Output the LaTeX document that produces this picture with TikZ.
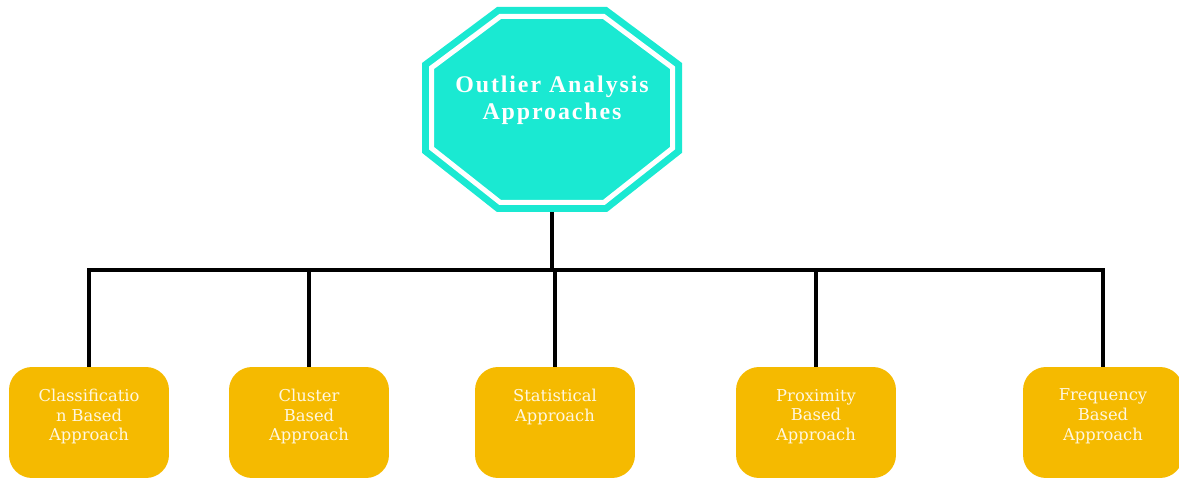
\documentclass[tikz,border=0pt]{standalone}
\usepackage{fontspec}
\setmainfont{DejaVu Serif}
\newfontfamily\titlefont[LetterSpace=8]{Liberation Serif}
\usetikzlibrary{calc}
\definecolor{hubteal}{RGB}{26,233,210}
\definecolor{leafgold}{RGB}{245,186,0}
\definecolor{leafink}{RGB}{255,247,224}
\newcommand{\leaflines}[1]{\parbox[c][2.22cm][t]{3.1cm}{\centering
  \vspace*{0.44cm}#1}}

\begin{document}
\begin{tikzpicture}[
    x=0.02cm, y=-0.02cm,
    hubshape/.style={fill=hubteal, draw=hubteal, line width=0.14cm,
                     double=white, double distance=0.1cm,
                     line join=miter},
    hubtitle/.style={align=center, text=white, inner sep=0pt,
                     font=\titlefont\bfseries\fontsize{13.6}{15.5}\selectfont},
    leaf/.style={rectangle, rounded corners=0.46cm, fill=leafgold,
                 minimum width=3.2cm, minimum height=2.22cm,
                 inner sep=0pt, text=leafink,
                 font=\fontsize{9.3}{11.2}\selectfont},
    link/.style={draw=black, line width=0.08cm},
]
\useasboundingbox (0,0) rectangle (1179,479);

% ==========================================================
% Octagon at the top
% ==========================================================
\draw[hubshape] (500.2,16.5) -- (603.8,16.5) -- (672.5,67.8)
    -- (672.5,148.2) -- (603.8,202.5) -- (500.2,202.5)
    -- (431.5,148.2) -- (431.5,67.8) -- cycle;
\node[hubtitle] (hub) at (552,100) {Outlier Analysis\\Approaches};
\coordinate (hubfoot) at (552,212);
\coordinate (split) at (552,270);

% ==========================================================
% The five approaches
% ==========================================================
\node[leaf] (classif) at (89,422.5)
    {\leaflines{Classificatio\\n Based\\Approach}};
\node[leaf] (cluster) at (309,422.5)
    {\leaflines{Cluster\\Based\\Approach}};
\node[leaf] (statis)  at (555,422.5)
    {\leaflines{Statistical\\Approach}};
\node[leaf] (proxim)  at (816,422.5)
    {\leaflines{Proximity\\Based\\Approach}};
\node[leaf] (freq)    at (1103,422.5)
    {\leaflines{Frequency\\Based\\Approach}};

% connectors
\draw[link] (hubfoot) -- (split);
\foreach \leafname in {classif,cluster,statis,proxim,freq}
    \draw[link] (split) -| (\leafname.north);

\end{tikzpicture}
\end{document}
